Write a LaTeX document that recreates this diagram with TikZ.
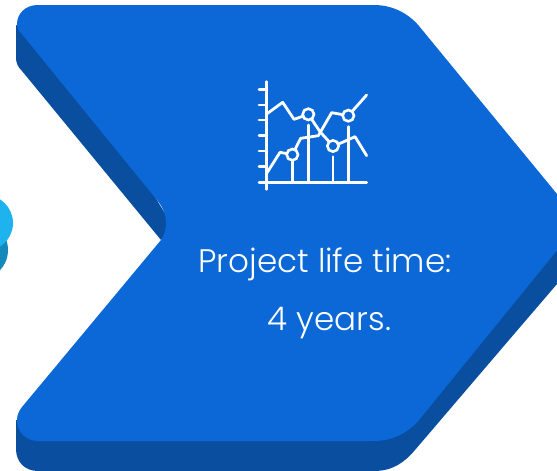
\documentclass[tikz,border=0pt]{standalone}
\usepackage{fontspec}
\setmainfont{Poppins}[UprightFont=* Light]
\definecolor{mainblue}{HTML}{0B68D6}
\definecolor{sideblue}{HTML}{0A4EA0}
\definecolor{dotlight}{HTML}{1EB2EE}
\definecolor{dotdark}{HTML}{1589BC}
\tikzset{
  iconline/.style={draw=white,line width=2.8pt,line join=round,line cap=round},
  iconring/.style={draw=white,fill=mainblue,line width=2.6pt},
  caption/.style={text=white,font=\fontsize{32.6}{38}\selectfont,inner sep=0pt,anchor=base}
}
\begin{document}
\begin{tikzpicture}[x=1pt,y=-1pt]
\useasboundingbox (0,0) rectangle (557,471);
\begin{scope}
\clip (0,0) rectangle (557,471);
% neighbouring dot
\fill[dotdark] (-22,250) circle[radius=30];
\fill[dotlight] (-15,223) circle[radius=28];
% side (extruded) faces: upper band and lower band
\fill[sideblue] (16,25) -- (16,58) .. controls (16,63) and (18,67) .. (22,71)
  -- (161,240) -- (172,225) -- (60,40) -- cycle;
\fill[sideblue] (557,250) -- (557,284) -- (509,340) -- (415,450)
  .. controls (404,463) and (392,471) .. (374,471) -- (38,471)
  .. controls (25,471) and (16,462) .. (16,449) -- (16,420) -- (60,430)
  -- (400,420) -- cycle;
% top face
\fill[mainblue] (38,5) -- (374,5) .. controls (392,5) and (408,13) .. (419,26)
  -- (580,222) -- (419,420) .. controls (408,433) and (392,441) .. (374,441)
  -- (38,441) .. controls (26,441) and (17,432) .. (17,420)
  .. controls (17,415) and (19,411) .. (22,407)
  -- (161,240) .. controls (164,236) and (166,229) .. (166,223)
  .. controls (166,215) and (163,207) .. (157,200)
  -- (21,33) .. controls (18,30) and (17,27) .. (17,24)
  .. controls (17,14) and (25,5) .. (38,5) -- cycle;
\end{scope}
% chart icon
\begin{scope}[shift={(240,70)},scale=1/3]
\draw[iconline] (79,35) -- (79,358);
\draw[iconline] (57,337) -- (380,337);
\foreach \ty in {58,105,150,197,243,290}
  \draw[iconline] (57,\ty) -- (79,\ty);
\draw[iconline] (157,270) -- (157,337);
\draw[iconline] (205,165) -- (205,337);
\draw[iconline] (279,260) -- (279,337);
\draw[iconline] (325,170) -- (325,337);
\draw[iconline] (80,132) -- (128,97) -- (162,148) -- (205,133) -- (240,185) -- (279,228) -- (305,218) -- (345,200) -- (380,257);
\draw[iconline] (80,310) -- (120,247) -- (157,254) -- (182,205) -- (235,197) -- (275,128) -- (325,137) -- (380,75);
\draw[iconring] (157,254) circle[radius=17];
\draw[iconring] (205,133) circle[radius=17];
\draw[iconring] (279,228) circle[radius=17];
\draw[iconring] (325,137) circle[radius=17];
\end{scope}
\node[caption] (line1) at (325,272) {Project life time:};
\node[caption] (line2) at (329.5,330) {4 years.};
\end{tikzpicture}
\end{document}
